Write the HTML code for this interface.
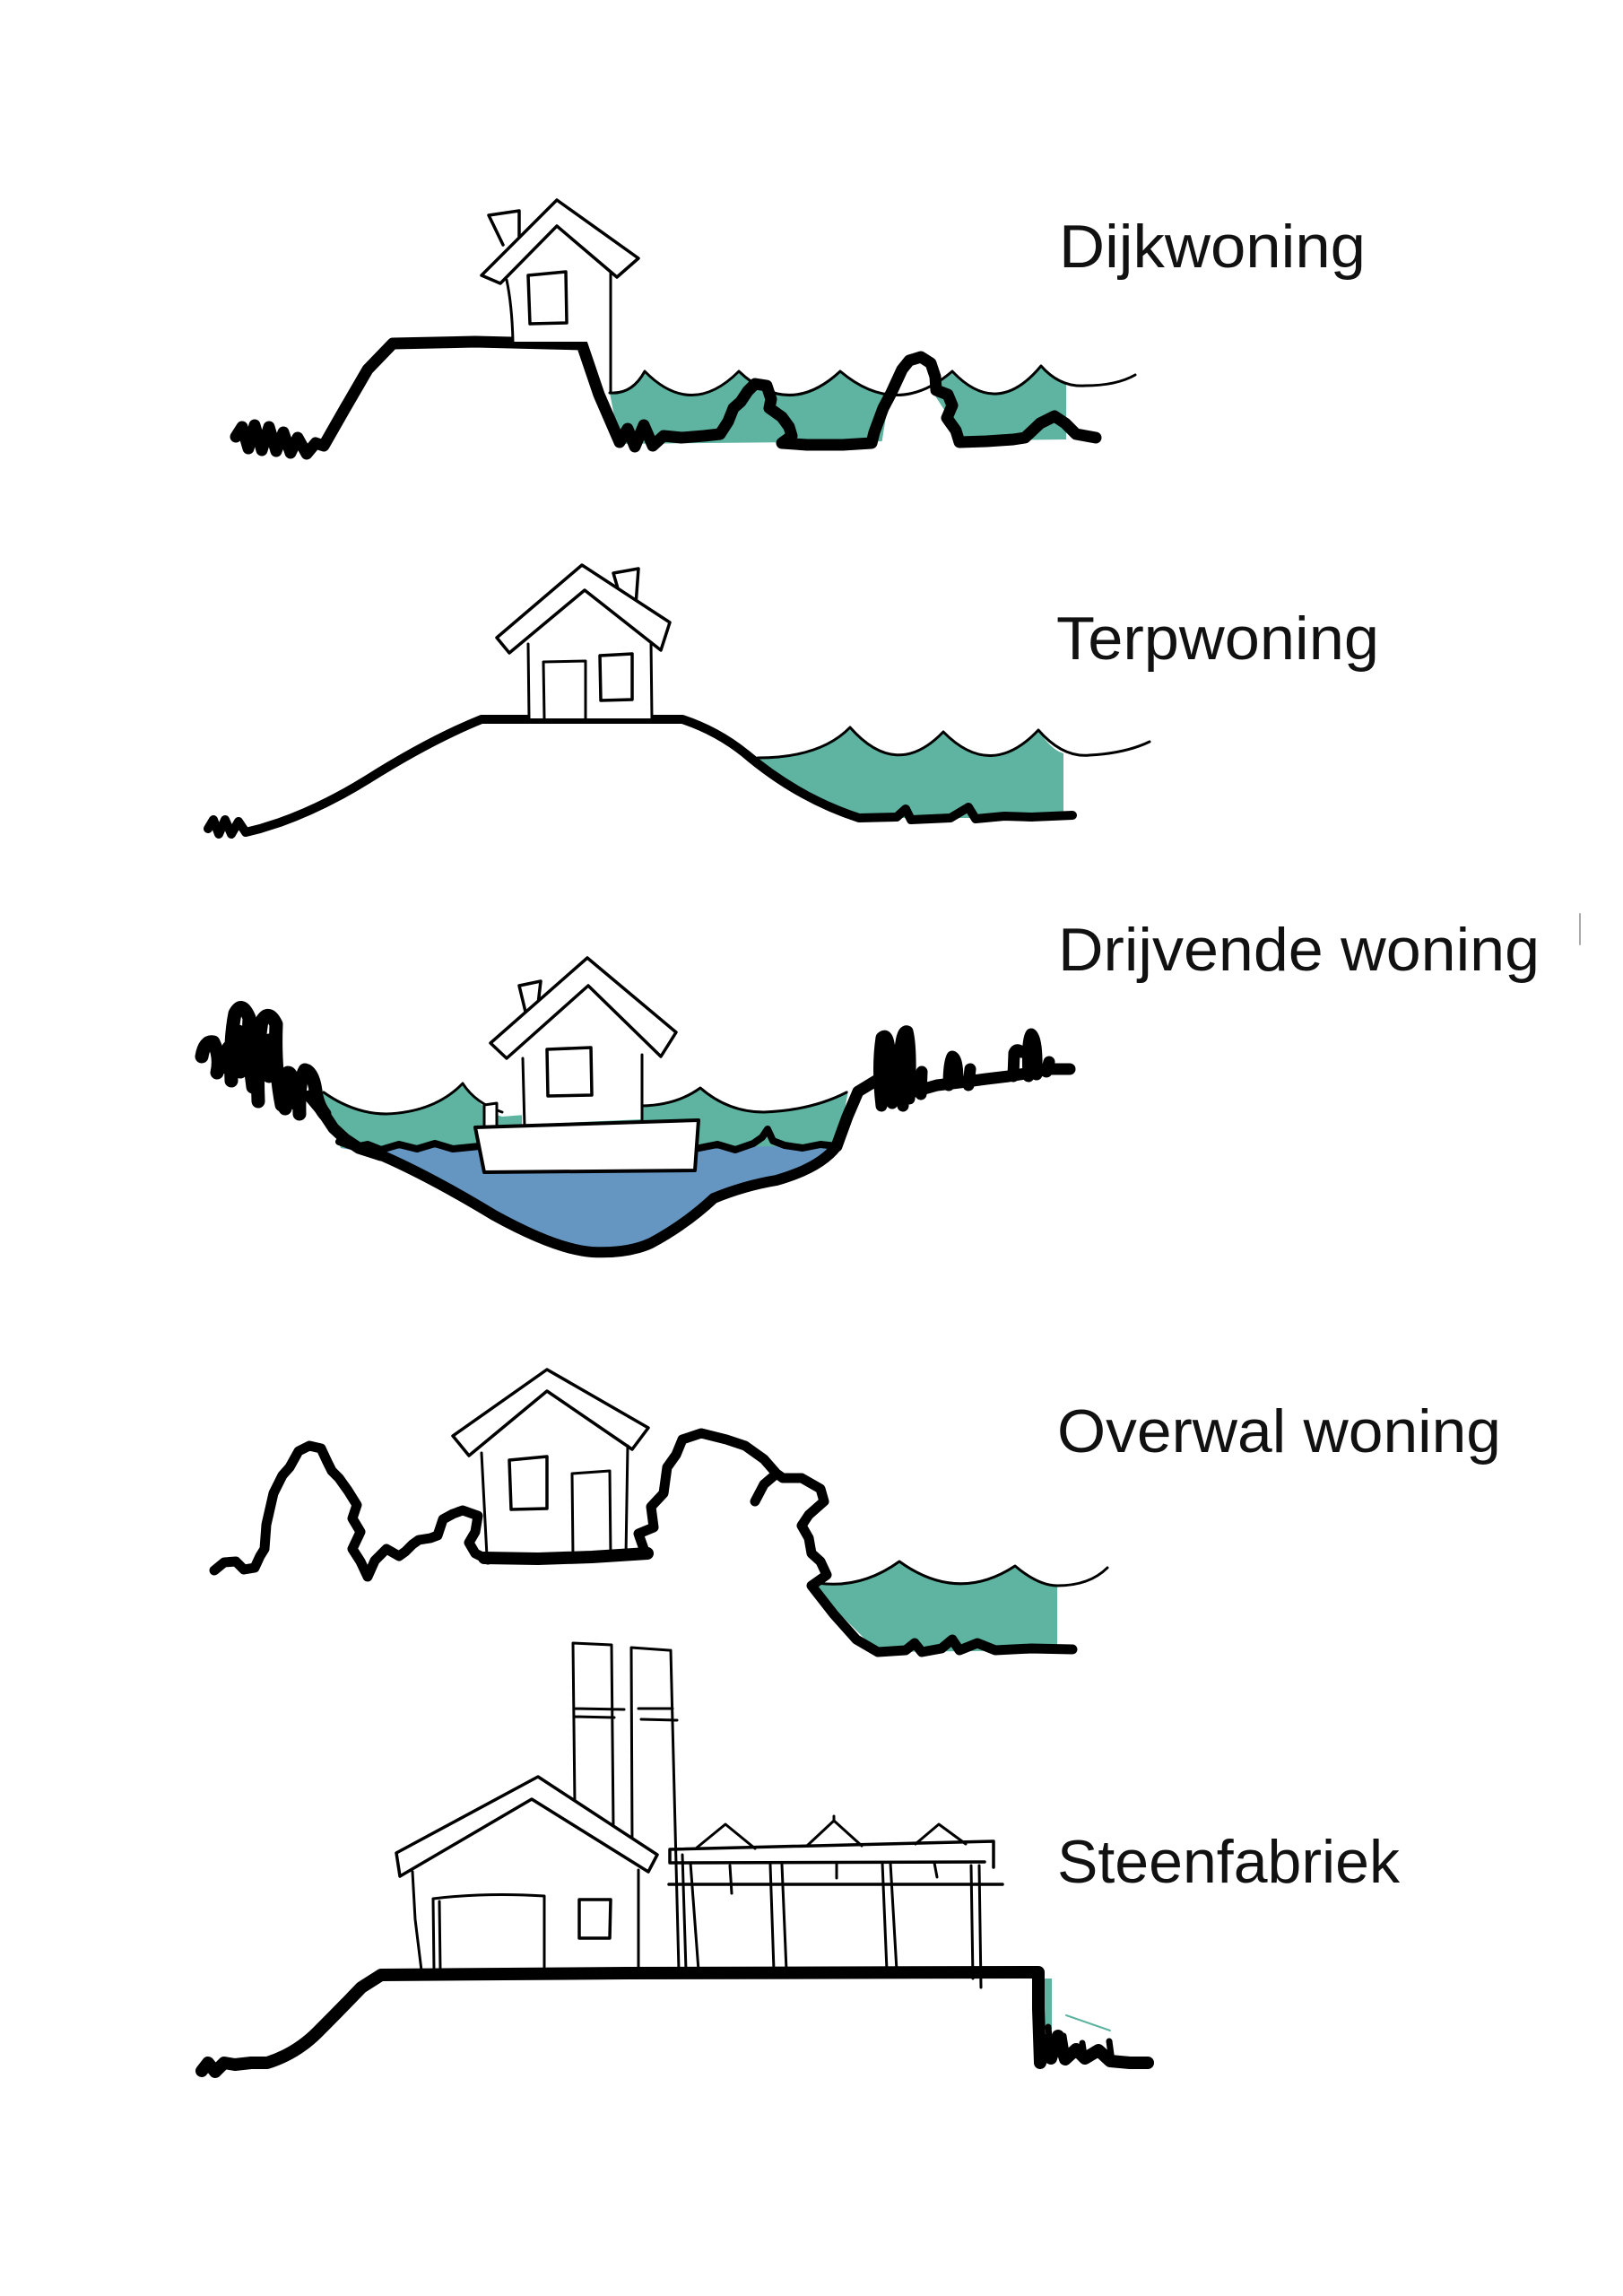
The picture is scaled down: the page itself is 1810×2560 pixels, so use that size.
<!DOCTYPE html>
<html><head><meta charset="utf-8"><style>
html,body{margin:0;padding:0;background:#fff;}
svg{display:block;}
text{font-family:"Liberation Sans",Arial,sans-serif;font-size:68px;fill:#111;}
</style></head><body>
<svg width="1810" height="2560" viewBox="0 0 1810 2560" xmlns="http://www.w3.org/2000/svg">
<rect width="1810" height="2560" fill="#fff"/>
<g stroke-linecap="round" stroke-linejoin="round">

<!-- ===== Scene 1: Dijkwoning ===== -->
<path d="M680,438 Q705,440 719,414 Q771,467 824,414 Q880,467 937,414 Q1000,467 1062,414 Q1112,467 1161,408 Q1175,422 1189,426 L1189,490 L691,495 Z" fill="#5eb4a1"/>
<path d="M982,502 L992,440 L1007,412 L1027,401 L1042,410 L1042,440 L1055,460 L1070,502 Z" fill="#fff"/>
<path d="M680,438 Q705,440 719,414 Q771,467 824,414 Q880,467 937,414 Q1000,467 1062,414 Q1112,467 1161,408 Q1182,432 1210,430 Q1245,430 1266,418" fill="none" stroke="#000" stroke-width="3"/>
<path d="M263,487 L270,476 L277,500 L284,474 L292,502 L300,476 L308,503 L316,482 L324,505 L332,488 L342,506 L352,494 L361,497 L385,455 L410,412 L438,383 L530,381 L649,384 L668,440 L691,493 L700,478 L708,498 L718,474 L728,497 L740,486 L760,488 L785,486 L803,484 L812,470 L818,455 L826,448 L834,436 L842,428 L855,430 L860,445 L858,455 L872,465 L880,476 L883,486 L872,494 L900,496 L940,496 L972,494 L975,482 L985,455 L994,438 L1000,425 L1006,412 L1014,402 L1027,398 L1038,405 L1043,420 L1044,435 L1057,440 L1062,452 L1056,466 L1066,480 L1070,493 L1100,492 L1130,490 L1143,488 L1160,472 L1176,464 L1188,472 L1200,484 L1222,488" fill="none" stroke="#000" stroke-width="13"/>
<!-- house 1 -->
<path d="M565,311 L572,381 L680,381 L680,304 L621,252 Z" fill="#fff"/>
<path d="M561,273 L545,240 L579,235 L579,264" fill="#fff" stroke="#000" stroke-width="3.5"/>
<path d="M537,307 L621,223 L712,288 L688,309 L621,252 L558,316 Z" fill="#fff" stroke="#000" stroke-width="3.5"/>
<path d="M565,312 Q571,340 572,381 M681,304 L681,438" fill="none" stroke="#000" stroke-width="3"/>
<path d="M589,307 L631,303 L632,360 L591,361 Z" fill="none" stroke="#000" stroke-width="3.5"/>

<!-- ===== Scene 2: Terpwoning ===== -->
<path d="M845,845 Q915,845 948,811 Q1000,870 1052,816 Q1105,870 1158,814 Q1172,836 1186,840 L1186,912 L958,912 Q890,890 845,845 Z" fill="#5eb4a1"/>
<path d="M845,845 Q915,845 948,811 Q1000,870 1052,816 Q1105,870 1158,814 Q1185,845 1215,842 Q1255,840 1282,827" fill="none" stroke="#000" stroke-width="3"/>
<path d="M232,924 L238,914 L244,930 L251,914 L258,930 L266,916 L274,928 L290,924 L312,917 Q360,900 410,869 Q480,825 537,802 L761,802 Q800,815 831,840 Q890,890 958,912 L1000,911 L1010,902 L1016,914 L1060,912 L1080,900 L1088,913 L1120,910 L1150,911 L1196,909" fill="none" stroke="#000" stroke-width="10"/>
<!-- house 2 -->
<path d="M589,712 L589,801 L726,801 L726,712 L652,658 Z" fill="#fff"/>
<path d="M691,663 L684,639 L712,634 L709,675" fill="#fff" stroke="#000" stroke-width="3.5"/>
<path d="M554,711 L649,630 L747,694 L737,725 L652,658 L568,728 Z" fill="#fff" stroke="#000" stroke-width="3.5"/>
<path d="M589,718 L590,801 M726,716 L727,801 M607,801 L606,738 L653,737 L653,801" fill="none" stroke="#000" stroke-width="3"/>
<path d="M669,731 L705,729 L705,780 L670,781 Z" fill="none" stroke="#000" stroke-width="3.5"/>

<!-- ===== Scene 3: Drijvende woning ===== -->
<path d="M355,1215 Q395,1242 431,1242 Q485,1240 516,1208 Q540,1240 560,1245 L716,1233 Q755,1232 781,1213 Q812,1240 852,1240 Q905,1238 946,1216 L934,1280 L380,1280 Z" fill="#5eb4a1"/>
<path d="M380,1280 L933,1278 Q915,1302 866,1316 Q830,1322 796,1336 Q765,1365 726,1386 Q700,1398 660,1396 Q620,1393 551,1355 Q480,1312 425,1288 Z" fill="#6596c1"/>
<path d="M361,1218 Q395,1242 431,1242 Q485,1240 516,1208 Q530,1230 560,1240 M716,1233 Q755,1232 781,1213 Q812,1240 852,1240 Q905,1238 944,1218" fill="none" stroke="#000" stroke-width="3"/>
<path d="M378,1273 L395,1279 L410,1276 L425,1282 L445,1276 L465,1281 L485,1275 L505,1281 L535,1278 M775,1281 L800,1276 L820,1282 L840,1275 L850,1268 L856,1259 L862,1272 L875,1277 L895,1280 L915,1276 L933,1278" fill="none" stroke="#000" stroke-width="8"/>
<path d="M425,1288 Q480,1312 551,1355 Q620,1393 660,1396 Q700,1398 726,1386 Q765,1365 796,1336 Q830,1322 866,1316 Q915,1302 933,1278" fill="none" stroke="#000" stroke-width="12"/>
<!-- left bank scribble -->
<path d="M345,1222 L360,1240 L372,1258 L385,1270 L400,1280 L425,1288" fill="none" stroke="#000" stroke-width="13"/>
<path d="M225,1178 Q228,1160 238,1162 Q246,1178 242,1196 M248,1190 L255,1168 M258,1205 Q256,1160 262,1130 Q270,1115 278,1135 Q276,1170 282,1212 M268,1195 L266,1150 M288,1228 Q286,1175 292,1138 Q300,1125 308,1142 Q306,1190 314,1232 M300,1200 L300,1160 M318,1236 Q316,1212 321,1196 Q328,1196 329,1230 M334,1242 Q333,1205 340,1193 Q349,1195 352,1216 Q354,1232 362,1242" fill="none" stroke="#000" stroke-width="15"/>
<!-- right bank -->
<path d="M933,1278 L945,1245 L957,1217 L980,1203 L1000,1215 L1020,1217 L1045,1210 L1070,1207 L1100,1203 L1125,1200 L1150,1196 L1170,1192 L1193,1192" fill="none" stroke="#000" stroke-width="13"/>
<path d="M983,1233 Q978,1190 983,1157 Q990,1150 992,1170 L995,1230 M1007,1233 L1004,1170 Q1006,1148 1012,1150 Q1017,1170 1014,1225 M1027,1220 L1028,1195 M1058,1210 Q1058,1185 1062,1178 Q1068,1180 1068,1205 M1080,1210 L1082,1192 M1130,1200 L1131,1174 Q1134,1168 1139,1173 M1147,1200 Q1145,1160 1150,1153 Q1157,1158 1156,1198 M1167,1195 L1170,1184" fill="none" stroke="#000" stroke-width="13"/>
<!-- house 3 -->
<path d="M582,1180 L582,1254 L716,1248 L716,1177 L656,1099 Z" fill="#fff"/>
<path d="M586,1128 L579,1099 L603,1094 L600,1120" fill="#fff" stroke="#000" stroke-width="3.5"/>
<path d="M547,1163 L655,1068 L754,1151 L737,1178 L656,1099 L565,1180 Z" fill="#fff" stroke="#000" stroke-width="3.5"/>
<path d="M583,1180 L585,1256 M716,1176 L716,1250" fill="none" stroke="#000" stroke-width="3"/>
<path d="M610,1170 L659,1168 L660,1221 L611,1222 Z" fill="none" stroke="#000" stroke-width="3.5"/>
<path d="M540,1257 L540,1232 L554,1230 L554,1256" fill="#fff" stroke="#000" stroke-width="3"/>
<path d="M530,1257 L779,1249 L775,1305 L540,1307 Z" fill="#fff" stroke="#000" stroke-width="4"/>
<line x1="1762" y1="1019" x2="1762" y2="1053" stroke="#aaa" stroke-width="2"/>

<!-- ===== Scene 4: Overwal woning ===== -->
<path d="M912,1765 Q960,1772 1003,1741 Q1068,1788 1132,1746 Q1158,1768 1179,1768 L1179,1840 L979,1842 L905,1768 Z" fill="#5eb4a1"/>
<path d="M912,1765 Q960,1772 1003,1741 Q1068,1788 1132,1746 Q1158,1768 1179,1768 Q1215,1768 1235,1748" fill="none" stroke="#000" stroke-width="3"/>
<path d="M537,1617 L537,1733 L698,1733 L698,1612 L610,1551 Z" fill="#fff"/>
<path d="M505,1601 L610,1527 L723,1592 L705,1616 L610,1551 L523,1623 Z" fill="#fff" stroke="#000" stroke-width="3.5"/>
<path d="M537,1620 L543,1735 M700,1612 L698,1735 M639,1735 L638,1643 L680,1640 L681,1735" fill="none" stroke="#000" stroke-width="3"/>
<path d="M568,1628 L610,1624 L610,1682 L570,1683 Z" fill="none" stroke="#000" stroke-width="3.5"/>
<path d="M540,1737 L600,1738 L660,1736 L722,1732" fill="none" stroke="#000" stroke-width="14"/>
<path d="M239,1751 L250,1742 L263,1741 L272,1750 L284,1748 L290,1735 L295,1727 L297,1700 L305,1665 L315,1645 L323,1636 L333,1618 L345,1612 L358,1615 L365,1630 L370,1640 L378,1648 L388,1662 L398,1678 L393,1693 L402,1708 L393,1727 L402,1741 L410,1758 L418,1740 L431,1727 L445,1735 L452,1730 L460,1722 L467,1717 L480,1715 L488,1712 L494,1694 L505,1688 L516,1684 L533,1690 L530,1708 L523,1720 L530,1732 L544,1739" fill="none" stroke="#000" stroke-width="11"/>
<path d="M719,1730 L712,1710 L729,1703 L726,1680 L740,1665 L744,1636 L754,1622 L761,1605 L782,1598 L810,1605 L831,1612 L852,1627 L866,1643 L852,1655 L842,1674 M866,1643 L873,1648 L894,1648 L915,1660 L919,1674 L902,1689 L894,1701 L902,1715 L905,1732 L915,1741 L922,1756 L905,1768 L930,1800 L955,1828 L979,1842 L1010,1840 L1020,1832 L1028,1842 L1050,1838 L1062,1828 L1070,1840 L1090,1832 L1110,1840 L1150,1838 L1196,1839" fill="none" stroke="#000" stroke-width="11"/>

<!-- ===== Scene 5: Steenfabriek ===== -->
<rect x="1160" y="2206" width="13" height="56" fill="#5eb4a1"/>
<path d="M1189,2247 L1238,2264" stroke="#5eb4a1" stroke-width="2" fill="none"/>
<path d="M225,2309 L232,2300 L240,2310 L250,2300 L262,2302 L280,2300 L298,2300 Q330,2290 354,2266 Q380,2240 403,2216 L425,2202 L700,2200 L1158,2199 L1158,2240 L1160,2300 L1165,2275 L1172,2295 L1180,2270 L1188,2296 L1200,2285 L1210,2295 L1225,2286 L1238,2298 L1260,2300 L1280,2300" fill="none" stroke="#000" stroke-width="14"/>
<path d="M1169,2260 L1172,2295 M1186,2270 L1190,2295 M1207,2278 L1210,2298 M1237,2276 L1240,2298" fill="none" stroke="#000" stroke-width="7"/>
<!-- chimneys -->
<path d="M641,2012 L639,1832 L682,1834 L684,2037 M641,1905 L696,1906 M641,1914 L685,1915 M705,2056 L704,1837 L746,1840 M748,1840 L750,1920 L757,2197 M712,1905 L750,1905 M715,1917 L755,1918" fill="none" stroke="#000" stroke-width="3"/>
<!-- factory house -->
<path d="M442,2066 L600,1981 L733,2068 L723,2087 L593,2006 L446,2092 Z" fill="#fff" stroke="#000" stroke-width="3.5"/>
<path d="M460,2087 L463,2140 L470,2197 M712,2085 L712,2197 M484,2197 L483,2117 Q540,2110 607,2114 L607,2197 M490,2120 L491,2197" fill="none" stroke="#000" stroke-width="3"/>
<path d="M646,2118 L681,2118 L680,2161 L646,2161 Z" fill="none" stroke="#000" stroke-width="3.5"/>
<!-- shed -->
<path d="M776,2061 L809,2034 L842,2061 M900,2058 L930,2030 L961,2058 M930,2030 L930,2025 M1021,2056 L1047,2034 L1077,2056" fill="none" stroke="#000" stroke-width="3"/>
<path d="M747,2062 L1108,2053 L1108,2082 M747,2062 L747,2077 L1098,2076" fill="none" stroke="#000" stroke-width="3.5"/>
<path d="M746,2101 L1118,2101" fill="none" stroke="#000" stroke-width="3.5"/>
<path d="M761,2068 L765,2197 M770,2077 L779,2197 M859,2079 L863,2197 M872,2079 L877,2197 M984,2077 L989,2197 M993,2077 L1000,2197 M1083,2080 L1085,2206 M1092,2080 L1094,2216 M814,2080 L816,2111 M933,2077 L933,2094 M1042,2077 L1045,2093" fill="none" stroke="#000" stroke-width="3"/>

<!-- ===== Labels ===== -->
<text x="1181" y="298" textLength="342" lengthAdjust="spacingAndGlyphs">Dijkwoning</text>
<text x="1178" y="735" textLength="360" lengthAdjust="spacingAndGlyphs">Terpwoning</text>
<text x="1180" y="1082" textLength="537" lengthAdjust="spacingAndGlyphs">Drijvende woning</text>
<text x="1179" y="1619" textLength="495" lengthAdjust="spacingAndGlyphs">Overwal woning</text>
<text x="1179" y="2099" textLength="382" lengthAdjust="spacingAndGlyphs">Steenfabriek</text>
</g>
</svg>
</body></html>
